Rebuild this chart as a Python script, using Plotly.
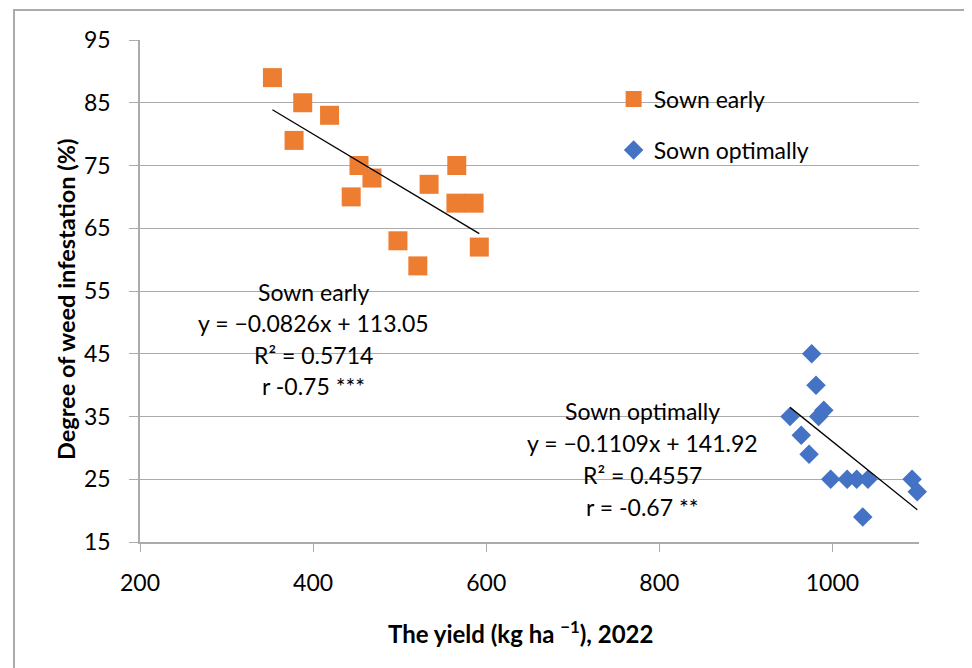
import plotly.graph_objects as go

# Data
early_x = [353, 388, 419, 378, 453, 468, 444, 534, 566, 565, 586, 498, 521, 592]
early_y = [89, 85, 83, 79, 75, 73, 70, 72, 75, 69, 69, 63, 59, 62]
opt_x = [976, 981, 990, 984, 951, 964, 973, 998, 1017, 1028, 1041, 1092, 1098, 1035]
opt_y = [45, 40, 36, 35, 35, 32, 29, 25, 25, 25, 25, 25, 23, 19]

early_coef = [-0.0826, 113.05]
opt_coef = [-0.1109, 141.92]

early_label = ["Sown early", "y = \u22120.0826x + 113.05", "R\u00b2 = 0.5714", "r -0.75 ***"]
opt_label = ["Sown optimally", "y = \u22120.1109x + 141.92", "R\u00b2 = 0.4557", "r = -0.67 **"]

y_ticks = [15, 25, 35, 45, 55, 65, 75, 85, 95]
x_ticks = [200, 400, 600, 800, 1000]

x_title = "<b>The yield (kg ha <sup>\u22121</sup>), 2022</b>"
y_title = "<b>Degree of weed infestation (%)</b>"

FONT = "Lato"
ORANGE = "#ED7D31"
BLUE = "#4472C4"
GRID = "#ABABAB"

fig = go.Figure()

fig.add_trace(go.Scatter(
    x=early_x, y=early_y, mode="markers", name="Sown early",
    marker=dict(symbol="square", size=19, color=ORANGE, line=dict(width=0)),
    legendgroup="a", cliponaxis=False,
))
fig.add_trace(go.Scatter(
    x=opt_x, y=opt_y, mode="markers", name="Sown optimally",
    marker=dict(symbol="diamond", size=15, color=BLUE, line=dict(width=0)),
    legendgroup="b", cliponaxis=False,
))

def trend(xs, coef):
    x0, x1 = min(xs), max(xs)
    return [x0, x1], [coef[0] * x0 + coef[1], coef[0] * x1 + coef[1]]

tx, ty = trend(early_x, early_coef)
fig.add_trace(go.Scatter(x=tx, y=ty, mode="lines", line=dict(color="black", width=1.3),
                         showlegend=False, hoverinfo="skip"))
tx, ty = trend(opt_x, opt_coef)
fig.add_trace(go.Scatter(x=tx, y=ty, mode="lines", line=dict(color="black", width=1.3),
                         showlegend=False, hoverinfo="skip"))

# Regression annotations
early_pos = (401, [54.9, 49.9, 44.8, 39.9])
opt_pos = (780, [35.8, 30.7, 25.6, 20.6])
for labels, (cx, ys) in ((early_label, early_pos), (opt_label, opt_pos)):
    for t, yy in zip(labels, ys):
        fig.add_annotation(x=cx, y=yy, xref="x", yref="y", text=t, showarrow=False,
                           xanchor="center", yanchor="middle",
                           font=dict(family=FONT, size=23, color="black"))

# Axis titles
fig.add_annotation(x=(520 - 140) / 779, y=(542 - 632) / 502, xref="paper", yref="paper",
                   text=x_title, showarrow=False, xanchor="center", yanchor="middle",
                   font=dict(family=FONT, size=24, color="black"))
fig.add_annotation(x=(66 - 140) / 779, y=(542 - 300) / 502, xref="paper", yref="paper",
                   text=y_title, showarrow=False, xanchor="center", yanchor="middle",
                   textangle=-90, font=dict(family=FONT, size=23.5, color="black"))

# Outer frame (only left and top edges visible in the picture)
fig.add_shape(type="rect", xref="paper", yref="paper",
              x0=(14 - 140) / 779, x1=2.0, y0=-1.0, y1=(542 - 10) / 502,
              line=dict(color="#ABABAB", width=2), fillcolor="rgba(0,0,0,0)", layer="below")

# The page body adds an 8 px margin, so the figure is drawn 8 px smaller
fig.update_layout(
    width=964, height=660,
    margin=dict(l=132, r=53, t=32, b=126, autoexpand=False),
    paper_bgcolor="white", plot_bgcolor="white",
    font=dict(family=FONT, size=23, color="black"),
    showlegend=True,
    legend=dict(x=0.608, y=0.925, xanchor="left", yanchor="top",
                bgcolor="rgba(0,0,0,0)", font=dict(family=FONT, size=23, color="black"),
                traceorder="grouped", tracegroupgap=18, itemwidth=30),
    xaxis=dict(range=[200, 1100], tickvals=x_ticks, showgrid=False, zeroline=False,
               automargin=False,
               showline=True, linecolor=GRID, linewidth=1.5,
               ticks="outside", ticklen=8, tickcolor=GRID, tickwidth=1.3,
               ticklabelstandoff=12,
               tickfont=dict(family=FONT, size=23, color="black")),
    yaxis=dict(range=[15, 95], tickvals=y_ticks, showgrid=True, gridcolor=GRID, gridwidth=1.3,
               automargin=False,
               zeroline=False, showline=True, linecolor=GRID, linewidth=1.5,
               ticks="outside", ticklen=9, tickcolor=GRID, tickwidth=1.3,
               ticklabelstandoff=14,
               tickfont=dict(family=FONT, size=23, color="black")),
)

fig.write_html("out.html")
